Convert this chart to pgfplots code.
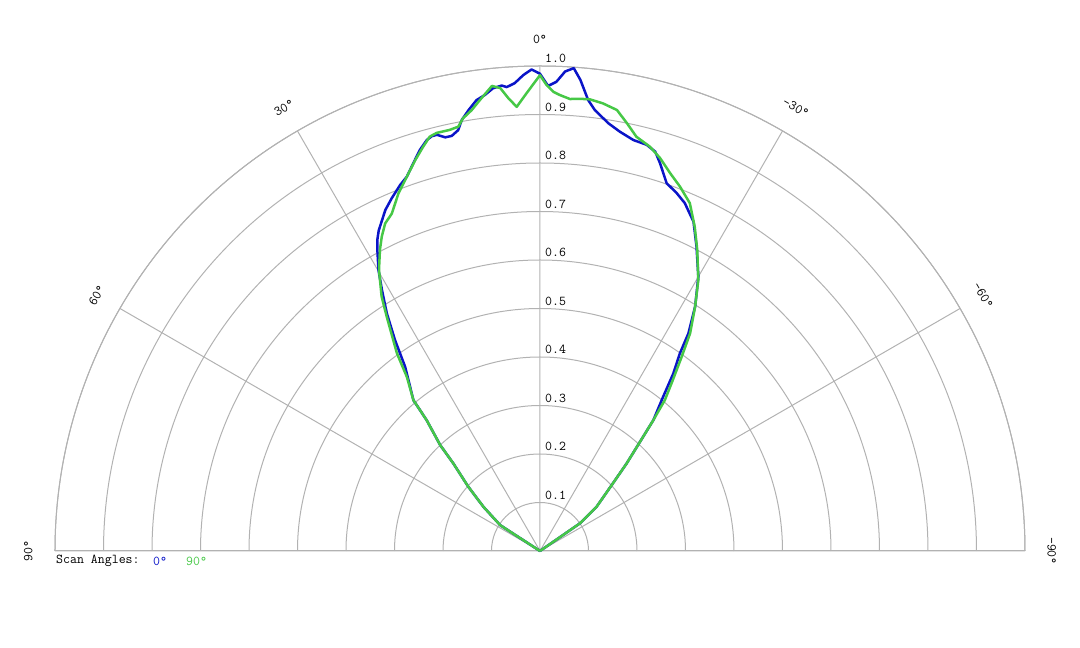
\documentclass[border=0pt]{standalone}
\usepackage{pgfplots}
\pgfplotsset{compat=1.18}
\usepgfplotslibrary{polar}
\usepackage{pgfplotstable}

\definecolor{scanblue}{RGB}{10,20,200}
\definecolor{scangreen}{RGB}{70,200,70}
\definecolor{gridgray}{RGB}{178,178,178}
\newcommand\chartfont{\ttfamily\fontsize{13.5}{15}\selectfont}

% t = scan angle in degrees (positive to the left of 0), r = relative level
\pgfplotstableread{
t r
60 0
57.0 0.098
52.0 0.148
48.1 0.199
44.7 0.254
43.3 0.300
40.9 0.357
40.0 0.406
36.2 0.471
34.5 0.528
32.8 0.583
31.2 0.629
29.9 0.668
28.4 0.705
27.6 0.724
26.7 0.740
25.8 0.752
24.4 0.772
22.8 0.789
20.9 0.808
19.6 0.819
18.1 0.841
16.7 0.863
15.4 0.879
14.6 0.884
13.9 0.884
12.9 0.875
12.0 0.875
11.0 0.884
10.3 0.903
9.2 0.921
8.0 0.939
6.9 0.947
5.8 0.959
4.7 0.963
4.1 0.959
3.1 0.966
2.0 0.982
1.0 0.993
0.0 0.984
-1.0 0.959
-2.0 0.968
-3.0 0.990
-4.0 0.998
-4.9 0.975
-6.1 0.935
-7.1 0.916
-9.1 0.893
-10.8 0.880
-12.8 0.869
-14.7 0.866
-16.1 0.857
-17.2 0.837
-19.0 0.802
-20.9 0.790
-22.6 0.777
-25.0 0.749
-27.2 0.706
-30.0 0.653
-32.4 0.597
-34.3 0.543
-35.3 0.499
-36.9 0.458
-38.6 0.407
-40.9 0.357
-42.5 0.305
-44.7 0.254
-47.4 0.201
-52.0 0.148
-55.3 0.100
-60 0
}\scanzero

\pgfplotstableread{
t r
60 0
57.0 0.098
52.0 0.148
48.1 0.199
44.7 0.254
43.3 0.300
40.9 0.357
40.0 0.406
37.4 0.452
35.9 0.503
33.2 0.577
31.9 0.618
29.8 0.668
28.0 0.703
26.7 0.726
25.3 0.747
23.7 0.760
21.6 0.793
19.6 0.819
17.7 0.846
16.1 0.868
14.9 0.884
13.9 0.888
12.1 0.888
10.9 0.891
10.1 0.906
8.8 0.920
7.6 0.938
5.9 0.964
4.9 0.958
4.0 0.936
3.0 0.917
1.7 0.944
0.0 0.981
-0.8 0.961
-1.7 0.947
-2.5 0.941
-3.8 0.934
-5.1 0.936
-6.3 0.937
-8.0 0.932
-9.9 0.923
-11.5 0.900
-13.1 0.877
-15.2 0.864
-17.0 0.847
-19.0 0.824
-21.0 0.805
-23.3 0.781
-25.5 0.741
-27.6 0.700
-30.3 0.647
-32.4 0.597
-34.6 0.545
-36.1 0.496
-38.1 0.440
-39.6 0.404
-40.9 0.357
-42.5 0.305
-44.7 0.254
-47.4 0.201
-52.0 0.148
-55.3 0.100
-60 0
}\scanninety

\begin{document}
\begin{tikzpicture}[x=1pt, y=1pt, font=\chartfont]
\path[use as bounding box] (0,0) rectangle (1080,648);
\begin{polaraxis}[
  at={(540pt,97pt)}, anchor=origin,
  scale only axis, width=970pt, height=970pt,
  xmin=0, xmax=180, ymin=0, ymax=1,
  xtick={0,30,60,90,120,150,180},
  ytick={0.1,0.2,0.3,0.4,0.5,0.6,0.7,0.8,0.9,1.0},
  xticklabels={}, yticklabels={},
  major tick length=0pt,
  grid=major,
  major grid style={gridgray, line width=1pt},
  axis line style={gridgray, line width=1pt},
  clip=false,
]
  \addplot[scanblue, line width=2.5pt, line join=round, no marks]
    table[x expr=\thisrow{t}+90, y=r] {\scanzero};
  \addplot[scangreen, line width=2.5pt, line join=round, no marks]
    table[x expr=\thisrow{t}+90, y=r] {\scanninety};

  \pgfplotsinvokeforeach{0.1,0.2,0.3,0.4,0.5,0.6,0.7,0.8,0.9,1.0}{
    \node[anchor=south west, inner sep=0pt, xshift=5pt, yshift=3pt]
      at (axis cs:90,#1) {#1};
  }
  \pgfplotsinvokeforeach{-90,-60,-30,0,30,60,90}{
    \node[rotate=#1, inner sep=0pt] at (axis cs:{90+#1},1.055) {#1°};
  }
\end{polaraxis}
\node[anchor=west, inner sep=0pt] at (56,87) {Scan Angles:};
\node[anchor=west, inner sep=0pt, text=scanblue] at (153,87) {0°};
\node[anchor=west, inner sep=0pt, text=scangreen] at (186,87) {90°};
\end{tikzpicture}
\end{document}
